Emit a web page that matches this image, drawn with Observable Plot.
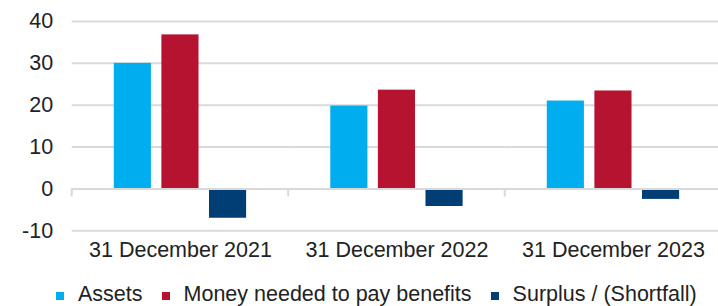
<!DOCTYPE html>
<html>
<head>
<meta charset="utf-8">
<script src="https://cdn.jsdelivr.net/npm/d3@7"></script>
<script src="https://cdn.jsdelivr.net/npm/@observablehq/plot@0.6"></script>
<style>
  html, body { margin: 0; padding: 0; background: #fff; }
  #wrap { position: relative; width: 718px; height: 306px; overflow: hidden; }
  #legend { position: absolute; left: 56px; top: 282px; display: flex; white-space: nowrap;
            font-family: "Liberation Sans", Arial, sans-serif; font-size: 21.5px; line-height: 25px; color: #222; }
  .item { display: flex; align-items: baseline; margin-right: 19px; }
  .sw { display: inline-block; width: 8px; height: 8px; margin-right: 14px; position: relative; top: -1px; }
</style>
</head>
<body>
<div id="wrap"><div id="chart"></div><div id="legend"></div></div>
<script>
const dates = ["31 December 2021", "31 December 2022", "31 December 2023"];
const series = ["Assets", "Money needed to pay benefits", "Surplus / (Shortfall)"];
const assets = [30.0, 19.8, 21.0];
const money = [36.8, 23.6, 23.4];
const surplus = [-7.0, -4.2, -2.5];
const colors = ["#00AEEF", "#B5132F", "#003E74"];
const yTicks = [-10, 0, 10, 20, 30, 40];

const valuesBySeries = [assets, money, surplus];
const data = dates.flatMap((d, i) => series.map((s, j) => ({date: d, series: s, value: valuesBySeries[j][i]})));

const grid = "#d9d9d9";
const chart = Plot.plot({
  width: 718,
  height: 268,
  marginLeft: 71.7,
  marginRight: -3.2,
  marginTop: 21,
  marginBottom: 37.7,
  style: {fontFamily: "'Liberation Sans', Arial, sans-serif", fontSize: "21.5px", color: "#222", background: "#fff"},
  fx: {domain: dates, padding: 0, round: false, label: null, axis: "bottom", tickSize: 0, tickPadding: 11},
  x: {domain: series, axis: null, paddingInner: 0.22, paddingOuter: 0.884, round: false},
  y: {domain: [-10, 40], ticks: yTicks, tickSize: 0, tickPadding: 19, tickFormat: d => String(d), label: null},
  color: {domain: series, range: colors},
  marks: [
    Plot.gridY(yTicks, {stroke: grid, strokeOpacity: 1, strokeWidth: 2}),
    Plot.barY(data, {fx: "date", x: "series", y: "value", fill: "series"}),
    Plot.ruleY([0], {stroke: grid, strokeWidth: 2})
  ]
});
document.getElementById("chart").appendChild(chart);

// separator ticks at the category boundaries, placed with the chart's own scales
const fxs = chart.scale("fx");
const ys = chart.scale("y");
const y0 = ys.apply(0);
d3.select(chart).append("g")
  .selectAll("line").data(dates).join("line")
  .attr("x1", d => fxs.apply(d)).attr("x2", d => fxs.apply(d))
  .attr("y1", y0).attr("y2", y0 + 8)
  .attr("stroke", grid).attr("stroke-width", 2);

// legend
const legend = d3.select("#legend");
series.forEach((s, i) => {
  const it = legend.append("div").attr("class", "item");
  it.append("span").attr("class", "sw").style("background", colors[i]);
  it.append("span").text(s);
});
</script>
</body>
</html>
